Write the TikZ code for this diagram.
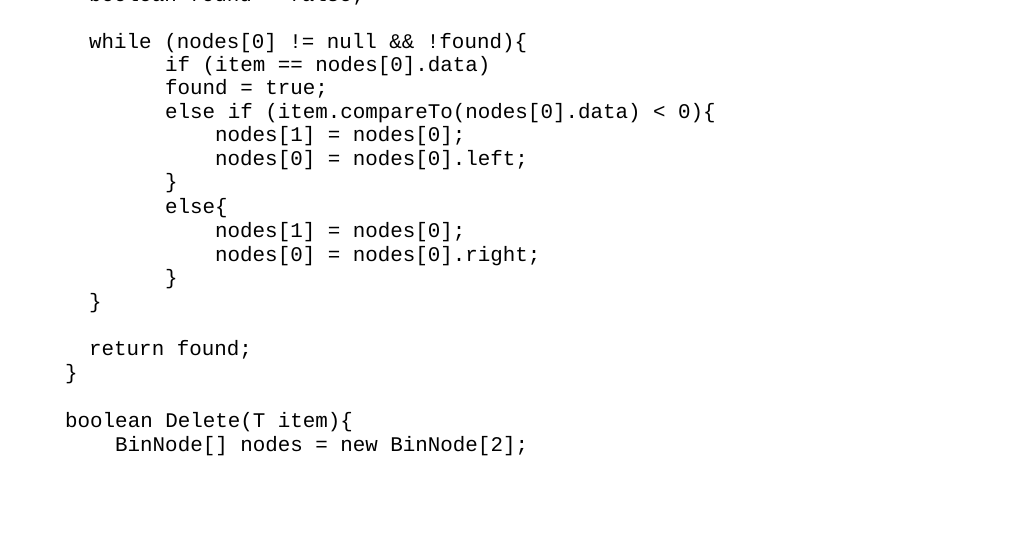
\documentclass[tikz,border=0pt]{standalone}
\usepackage{fontspec}
\setmonofont{Liberation Mono}
\begin{document}
\begin{tikzpicture}[x=1pt,y=1pt,code/.style={anchor=base west,inner sep=0pt,font=\ttfamily\fontsize{20.85}{24}\selectfont}]
\useasboundingbox[fill=white] (0,0) rectangle (1024,546);
\node[code] (l0) at (89,546-2) {boolean found = false;};
\node[code] (l1) at (89,546-49) {while (nodes[0] != null \&\& !found)\{};
\node[code] (l2) at (165,546-72) {if (item == nodes[0].data)};
\node[code] (l3) at (165,546-95) {found = true;};
\node[code] (l4) at (165,546-119) {else if (item.compareTo(nodes[0].data) < 0)\{};
\node[code] (l5) at (215,546-142) {nodes[1] = nodes[0];};
\node[code] (l6) at (215,546-166) {nodes[0] = nodes[0].left;};
\node[code] (l7) at (165,546-189) {\}};
\node[code] (l8) at (165,546-214) {else\{};
\node[code] (l9) at (215,546-238) {nodes[1] = nodes[0];};
\node[code] (l10) at (215,546-262) {nodes[0] = nodes[0].right;};
\node[code] (l11) at (165,546-285) {\}};
\node[code] (l12) at (89,546-309) {\}};
\node[code] (l13) at (89,546-356) {return found;};
\node[code] (l14) at (65,546-380) {\}};
\node[code] (l15) at (65,546-427) {boolean Delete(T item)\{};
\node[code] (l16) at (115,546-451) {BinNode[] nodes = new BinNode[2];};
\end{tikzpicture}
\end{document}
